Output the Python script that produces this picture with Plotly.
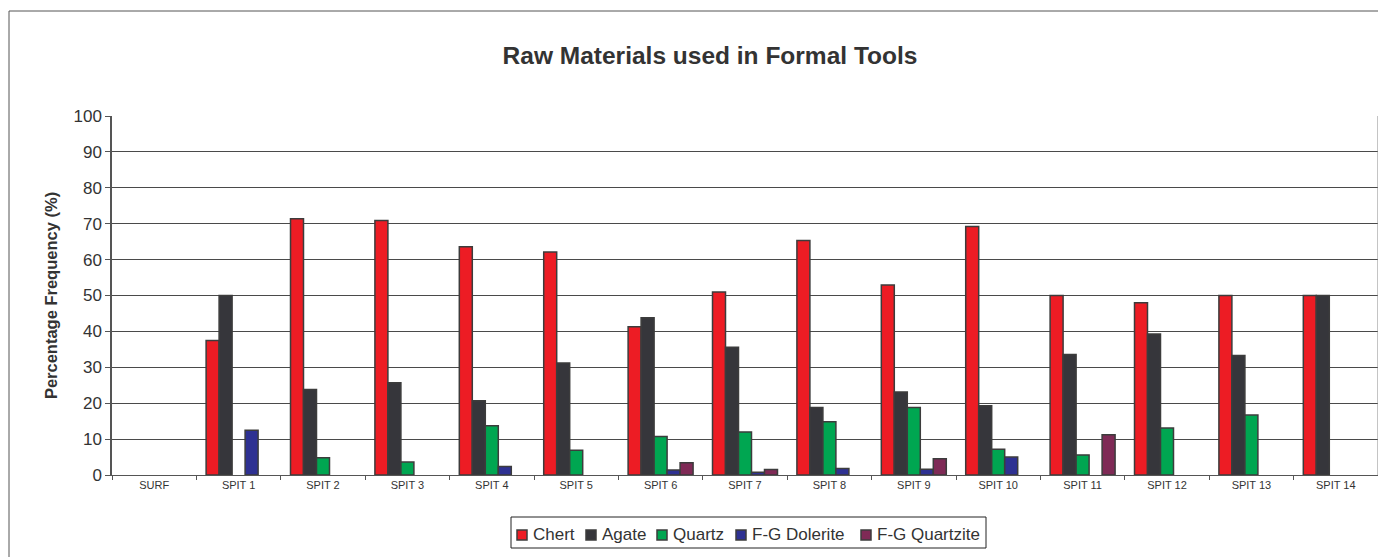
"""
Gráfico de materias primas usadas en herramientas formales por nivel (spit).
"""
import logging
import plotly.graph_objects as go

logger = logging.getLogger(__name__)

# Datos (porcentaje de frecuencia)
categories = ["SURF", "SPIT 1", "SPIT 2", "SPIT 3", "SPIT 4", "SPIT 5", "SPIT 6",
              "SPIT 7", "SPIT 8", "SPIT 9", "SPIT 10", "SPIT 11", "SPIT 12",
              "SPIT 13", "SPIT 14"]
chert = [0, 37.5, 71.4, 70.9, 63.6, 62.1, 41.3, 51.0, 65.3, 52.9, 69.2, 50.0, 48.0, 50.0, 50.0]
agate = [0, 50.0, 23.8, 25.7, 20.7, 31.2, 43.8, 35.6, 18.8, 23.1, 19.3, 33.6, 39.3, 33.3, 50.0]
quartz = [0, 0, 4.8, 3.6, 13.7, 6.9, 10.7, 12.0, 14.8, 18.8, 7.2, 5.6, 13.1, 16.7, 0]
dolerite = [0, 12.5, 0, 0, 2.4, 0, 1.4, 0.8, 1.8, 1.6, 5.0, 0, 0, 0, 0]
quartzite = [0, 0, 0, 0, 0, 0, 3.4, 1.5, 0, 4.5, 0, 11.2, 0, 0, 0]

series_names = ["Chert", "Agate", "Quartz", "F-G Dolerite", "F-G Quartzite"]
series_colors = ["#ED1C24", "#36363B", "#00A651", "#2E3192", "#7F2A56"]

# Geometría (en píxeles de la página; el body de la página añade 8 px)
PAGE_OFFSET = 8
PLOT_LEFT, PLOT_RIGHT, PLOT_TOP, PLOT_BOTTOM = 112, 1378, 116, 475
OUTLINE = "#3C3C3C"


def to_paper_x(px: float) -> float:
    return (px - PLOT_LEFT) / (PLOT_RIGHT - PLOT_LEFT)


def to_paper_y(py: float) -> float:
    return (PLOT_BOTTOM - py) / (PLOT_BOTTOM - PLOT_TOP)


def add_manual_legend(fig: go.Figure) -> None:
    """
    Dibuja una leyenda compacta estilo Excel (cuadro + texto).
    """
    # Recuadro de la leyenda
    fig.add_shape(type="rect", xref="paper", yref="paper",
                  x0=to_paper_x(511), x1=to_paper_x(986),
                  y0=to_paper_y(548), y1=to_paper_y(517),
                  line=dict(color="#222222", width=1), fillcolor="white")
    square_left = [517, 586, 657, 736, 861]
    for left, name, color in zip(square_left, series_names, series_colors):
        fig.add_shape(type="rect", xref="paper", yref="paper",
                      x0=to_paper_x(left), x1=to_paper_x(left + 10),
                      y0=to_paper_y(540), y1=to_paper_y(530),
                      line=dict(color=OUTLINE, width=1.5), fillcolor=color)
        fig.add_annotation(text=name, xref="paper", yref="paper",
                           x=to_paper_x(left + 14), y=to_paper_y(534),
                           xanchor="left", yanchor="middle", showarrow=False,
                           font=dict(size=17, color="#333333"))


def create_raw_materials_chart() -> go.Figure:
    """
    Crea el gráfico de barras agrupadas de materias primas.

    Returns:
        Figura de Plotly con el gráfico
    """
    fig = go.Figure()
    values = [chert, agate, quartz, dolerite, quartzite]

    for name, color, vals in zip(series_names, series_colors, values):
        # Los ceros no se dibujan (como en Excel, sin barra visible)
        fig.add_trace(go.Bar(
            x=categories,
            y=[v if v else None for v in vals],
            name=name,
            showlegend=False,
            marker=dict(color=color, line=dict(color=OUTLINE, width=1.5)),
        ))

    # Marco exterior del gráfico (estilo Excel)
    fig.add_shape(type="rect", xref="paper", yref="paper",
                  x0=to_paper_x(9), x1=1.2, y0=-0.6, y1=to_paper_y(11),
                  line=dict(color="#555555", width=1), layer="below")

    fig.update_layout(
        width=1386, height=557,
        margin=dict(l=PLOT_LEFT - PAGE_OFFSET, r=1386 + PAGE_OFFSET - PLOT_RIGHT,
                    t=PLOT_TOP - PAGE_OFFSET, b=557 + PAGE_OFFSET - PLOT_BOTTOM,
                    autoexpand=False),
        paper_bgcolor="white", plot_bgcolor="white",
        font=dict(family="Liberation Sans, Arial, sans-serif", color="#222222"),
        barmode="group", bargap=0.23, bargroupgap=0,
        title=dict(text="<b>Raw Materials used in Formal Tools</b>",
                   font=dict(size=24.5, color="#333333"),
                   xref="paper", x=to_paper_x(710), xanchor="center",
                   yref="container", y=1 - (55 - PAGE_OFFSET) / 557, yanchor="middle"),
        showlegend=False,
        xaxis=dict(tickfont=dict(size=11, color="#333333"),
                   showline=True, linecolor="#555555", linewidth=1,
                   ticks="outside", tickson="boundaries", ticklen=4,
                   tickcolor="#555555", showgrid=False, automargin=False),
        yaxis=dict(range=[0, 100], dtick=10,
                   tickfont=dict(size=17, color="#333333"),
                   showline=True, linecolor="#555555", linewidth=1.5,
                   ticks="outside", ticklen=5, tickcolor="#555555",
                   showgrid=True, gridcolor="#4A4A4A", gridwidth=1,
                   zeroline=False, automargin=False,
                   title=dict(text="<b>Percentage Frequency (%)</b>",
                              font=dict(size=16.5, color="#333333"), standoff=12)),
    )
    # Línea derecha del área de trazado
    fig.add_shape(type="line", xref="paper", yref="paper", x0=1, x1=1, y0=0, y1=1,
                  line=dict(color="#888888", width=1))
    add_manual_legend(fig)
    return fig


fig = create_raw_materials_chart()
fig.write_html("out.html")
